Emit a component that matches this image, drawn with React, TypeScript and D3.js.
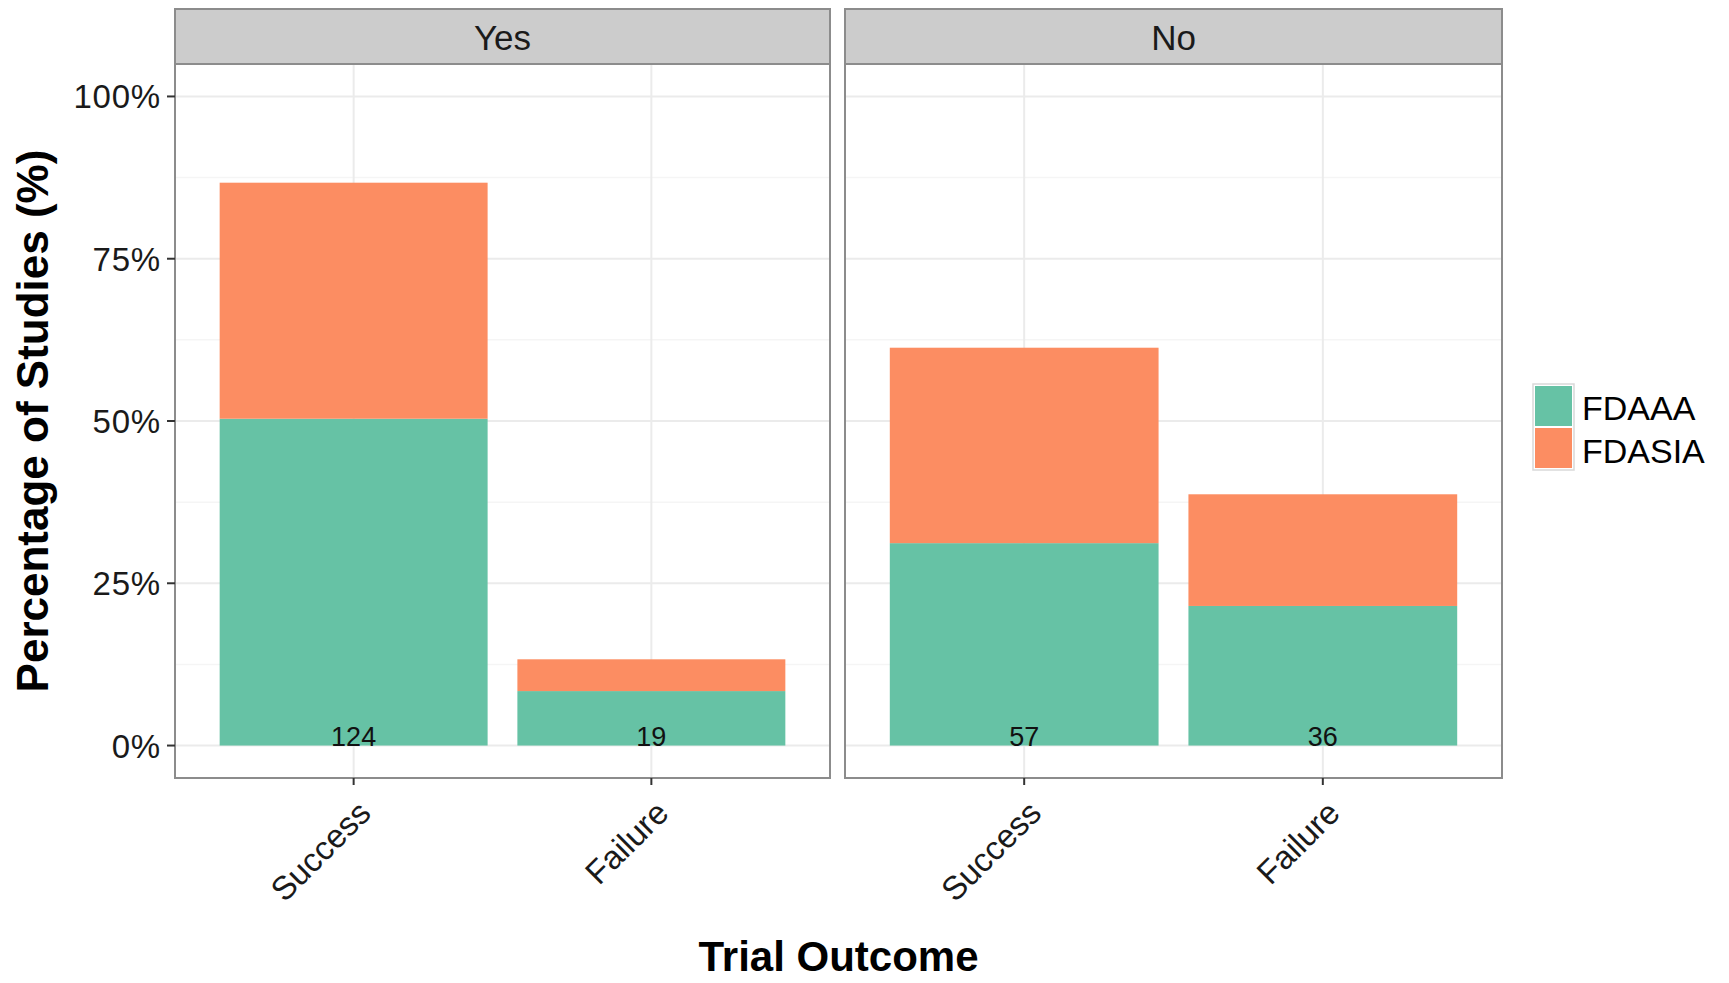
import React from 'react';
import * as d3 from 'd3';

// facets and categories
const facets = ['Yes', 'No'];
const outcomes = ['Success', 'Failure'];
const groups = ['FDAAA', 'FDASIA'];

// study counts per facet, in outcome order
const fdaaaCounts: { [facet: string]: number[] } = { Yes: [72, 12], No: [29, 20] };
const fdasiaCounts: { [facet: string]: number[] } = { Yes: [52, 7], No: [28, 16] };

const yTicks = [0, 0.25, 0.5, 0.75, 1];
const yMinor = [0.125, 0.375, 0.625, 0.875];

const colors = ['#66C2A5', '#FC8D62'];
const font = '"Liberation Sans", Arial, sans-serif';

interface Row {
  outcome: string;
  FDAAA: number;
  FDASIA: number;
  total: number;
}

export default function App() {
  const width = 1729;
  const height = 983;

  const panelX = [
    [175, 830],
    [845, 1502],
  ];
  const stripTop = 9;
  const panelTop = 64;
  const panelBottom = 778;

  const yScale = d3.scaleLinear().domain([-0.05, 1.05]).range([panelBottom, panelTop]);
  const color = d3.scaleOrdinal<string, string>().domain(groups).range(colors);

  const yFmt = (d: number) => `${Math.round(d * 100)}%`;

  return (
    <svg
      width={width}
      height={height}
      style={{ position: 'absolute', left: 0, top: 0, background: '#fff' }}
      fontFamily={font}
    >
      {facets.map((facet, fi) => {
        const [x0, x1] = panelX[fi];
        const rowsRaw = outcomes.map((o, i) => ({
          outcome: o,
          a: fdaaaCounts[facet][i],
          b: fdasiaCounts[facet][i],
        }));
        const n = d3.sum(rowsRaw, (r) => r.a + r.b);
        const rows: Row[] = rowsRaw.map((r) => ({
          outcome: r.outcome,
          FDAAA: r.a / n,
          FDASIA: r.b / n,
          total: r.a + r.b,
        }));
        const series = d3.stack<Row>().keys(groups)(rows);

        const xScale = d3
          .scaleBand()
          .domain(outcomes)
          .range([x0, x1])
          .paddingInner(0.1)
          .paddingOuter(0.15);
        const cx = (o: string) => (xScale(o) as number) + xScale.bandwidth() / 2;

        return (
          <g key={facet}>
            {/* panel background and grid */}
            <rect x={x0} y={panelTop} width={x1 - x0} height={panelBottom - panelTop} fill="#fff" />
            {yMinor.map((t) => (
              <line key={'mn' + t} x1={x0} x2={x1} y1={yScale(t)} y2={yScale(t)} stroke="#F5F5F5" strokeWidth={1.5} />
            ))}
            {yTicks.map((t) => (
              <line key={'mj' + t} x1={x0} x2={x1} y1={yScale(t)} y2={yScale(t)} stroke="#EBEBEB" strokeWidth={2} />
            ))}
            {outcomes.map((o) => (
              <line key={'v' + o} x1={cx(o)} x2={cx(o)} y1={panelTop} y2={panelBottom} stroke="#EBEBEB" strokeWidth={2} />
            ))}

            {/* bars */}
            {series.map((s) =>
              s.map((d) => (
                <rect
                  key={s.key + d.data.outcome}
                  x={xScale(d.data.outcome)}
                  y={yScale(d[1])}
                  width={xScale.bandwidth()}
                  height={yScale(d[0]) - yScale(d[1])}
                  fill={color(s.key)}
                />
              ))
            )}

            {/* count labels */}
            {rows.map((r) => (
              <text
                key={'n' + r.outcome}
                x={cx(r.outcome)}
                y={yScale(0)}
                textAnchor="middle"
                fontSize={27}
                fill="#111"
              >
                {r.total}
              </text>
            ))}

            {/* border */}
            <rect
              x={x0}
              y={panelTop}
              width={x1 - x0}
              height={panelBottom - panelTop}
              fill="none"
              stroke="#8C8C8C"
              strokeWidth={2}
            />

            {/* strip */}
            <rect
              x={x0}
              y={stripTop}
              width={x1 - x0}
              height={panelTop - stripTop}
              fill="#CCCCCC"
              stroke="#8C8C8C"
              strokeWidth={2}
            />
            <text x={(x0 + x1) / 2} y={50} textAnchor="middle" fontSize={35} fill="#1a1a1a">
              {facet}
            </text>

            {/* x ticks and labels */}
            {outcomes.map((o) => (
              <g key={'xt' + o}>
                <line x1={cx(o)} x2={cx(o)} y1={panelBottom} y2={panelBottom + 7} stroke="#333" strokeWidth={2} />
                <text
                  transform={`translate(${cx(o) + 19},${panelBottom + 37}) rotate(-45)`}
                  textAnchor="end"
                  fontSize={33}
                  fill="#1a1a1a"
                >
                  {o}
                </text>
              </g>
            ))}
          </g>
        );
      })}

      {/* y axis */}
      {yTicks.map((t) => (
        <g key={'yt' + t}>
          <line x1={167} x2={175} y1={yScale(t)} y2={yScale(t)} stroke="#333" strokeWidth={2} />
          <text x={161} y={yScale(t) + 12} textAnchor="end" fontSize={33} letterSpacing={0.8} fill="#1a1a1a">
            {yFmt(t)}
          </text>
        </g>
      ))}

      <text
        transform={`translate(48,${(panelTop + panelBottom) / 2}) rotate(-90)`}
        textAnchor="middle"
        fontSize={44}
        fontWeight="bold"
        fill="#000"
      >
        Percentage of Studies (%)
      </text>
      <text x={(175 + 1502) / 2} y={971} textAnchor="middle" fontSize={42} fontWeight="bold" fill="#000">
        Trial Outcome
      </text>

      {/* legend */}
      {groups.map((g, i) => (
        <g key={'lg' + g}>
          <rect x={1534} y={385 + i * 42} width={39} height={42} fill={color(g)} stroke="#fff" strokeWidth={2} />
          <text x={1582} y={420 + i * 43} fontSize={34} fill="#000">
            {g}
          </text>
        </g>
      ))}
      <rect x={1533} y={384} width={41} height={86} fill="none" stroke="#D9D9D9" strokeWidth={1.5} />
    </svg>
  );
}
